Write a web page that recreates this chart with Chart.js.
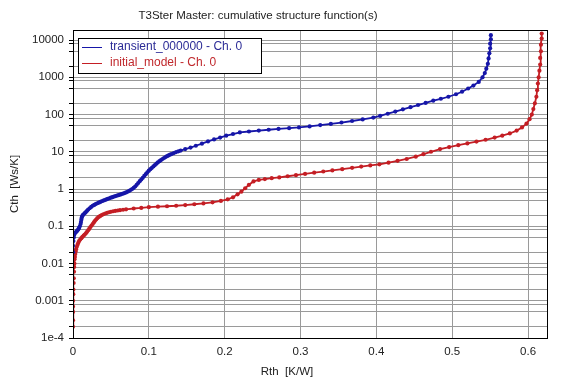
<!DOCTYPE html>
<html>
<head>
<meta charset="utf-8">
<script src="https://cdn.jsdelivr.net/npm/chart.js@4/dist/chart.umd.min.js"></script>
<style>
  html, body { margin: 0; padding: 0; background: #ffffff; }
  #wrap { width: 565px; height: 381px; }
</style>
</head>
<body>
<div id="wrap"><canvas id="c" width="565" height="381"></canvas></div>
<script>
// ---- Data ----
const TITLE = 'T3Ster Master: cumulative structure function(s)';
const X_TITLE = 'Rth  [K/W]';
const Y_TITLE = 'Cth  [Ws/K]';
const SERIES_NAMES = ['transient_000000 - Ch. 0', 'initial_model - Ch. 0'];

const BLUE_X = [0, 0, 0.0005, 0.001, 0.0015, 0.002, 0.003, 0.004, 0.005, 0.006, 0.007, 0.008, 0.009, 0.010, 0.0105, 0.011,
  0.0115, 0.012, 0.013, 0.014, 0.0155, 0.017, 0.0185, 0.020, 0.022, 0.024, 0.026, 0.028, 0.030, 0.032, 0.034, 0.036,
  0.038, 0.040, 0.042, 0.044, 0.046, 0.048, 0.050, 0.052, 0.054, 0.056, 0.058, 0.060, 0.062, 0.064, 0.066, 0.068,
  0.070, 0.072, 0.074, 0.076, 0.078, 0.080, 0.082, 0.084, 0.086, 0.088, 0.090, 0.092, 0.094, 0.096, 0.098, 0.100,
  0.102, 0.104, 0.106, 0.108, 0.110, 0.112, 0.114, 0.116, 0.118, 0.120, 0.122, 0.124, 0.126, 0.128, 0.130, 0.133,
  0.136, 0.139, 0.142, 0.148, 0.155, 0.162, 0.170, 0.178, 0.186, 0.194, 0.202, 0.211, 0.220,
  0.232, 0.245, 0.258, 0.271, 0.285, 0.298, 0.312, 0.326, 0.340, 0.354, 0.368, 0.382, 0.396, 0.405, 0.415, 0.425,
  0.435, 0.445, 0.455, 0.465, 0.475, 0.485, 0.495, 0.505, 0.513, 0.521, 0.528, 0.535, 0.540, 0.543, 0.545, 0.547,
  0.548, 0.549, 0.550, 0.550, 0.551, 0.551];
const BLUE_Y = [0.02, 0.03, 0.04, 0.05, 0.058, 0.063, 0.067, 0.07, 0.074, 0.078, 0.083, 0.09, 0.1, 0.115, 0.13, 0.15,
  0.17, 0.185, 0.2, 0.21, 0.225, 0.24, 0.26, 0.28, 0.305, 0.33, 0.355, 0.375, 0.395, 0.415, 0.43, 0.45,
  0.47, 0.49, 0.505, 0.525, 0.545, 0.565, 0.585, 0.605, 0.625, 0.645, 0.665, 0.685, 0.705, 0.73, 0.755, 0.78,
  0.81, 0.845, 0.89, 0.94, 1.0, 1.07, 1.17, 1.3, 1.45, 1.62, 1.8, 2.0, 2.25, 2.5, 2.8, 3.1,
  3.4, 3.7, 4.05, 4.4, 4.8, 5.2, 5.6, 6.0, 6.4, 6.8, 7.2, 7.6, 8.0, 8.4, 8.7, 9.2,
  9.8, 10.3, 10.8, 11.8, 13, 14.5, 16.5, 19, 21.5, 24, 27, 30, 33,
  35, 37, 39, 41, 43, 45, 48, 52, 56, 61, 67, 74, 83, 92, 105, 120,
  138, 158, 180, 205, 235, 265, 300, 350, 410, 500, 600, 750, 1000, 1300, 1700, 2300,
  3200, 4400, 6000, 8000, 10500, 13500];

const RED_X = [0, 0, 0, 0, 0, 0.0003, 0.0005, 0.0008, 0.001, 0.0013, 0.0015, 0.0018, 0.002, 0.0025, 0.003, 0.0035,
  0.004, 0.005, 0.006, 0.007, 0.008, 0.0095, 0.011, 0.0125, 0.014, 0.0155, 0.017, 0.0185, 0.020, 0.0215, 0.023, 0.0245,
  0.026, 0.0275, 0.029, 0.0305, 0.032, 0.034, 0.036, 0.038, 0.040, 0.0425, 0.045, 0.0475, 0.050, 0.053, 0.056, 0.059,
  0.062, 0.066, 0.070, 0.080, 0.090, 0.100, 0.112, 0.124, 0.136,
  0.148, 0.160, 0.172, 0.184, 0.195, 0.204, 0.211, 0.217, 0.222, 0.227, 0.232, 0.238, 0.245, 0.253, 0.262, 0.272,
  0.283, 0.294, 0.306, 0.318, 0.330, 0.342, 0.355, 0.368, 0.380, 0.392, 0.404, 0.416, 0.428, 0.440, 0.452, 0.462,
  0.472, 0.484, 0.496, 0.508, 0.520, 0.532, 0.544, 0.556, 0.566, 0.576, 0.585, 0.592, 0.598, 0.602, 0.605, 0.607,
  0.609, 0.611, 0.612, 0.613, 0.614, 0.615, 0.616, 0.616, 0.617, 0.617, 0.618, 0.618];
const RED_Y = [0.0002, 0.0003, 0.0005, 0.0007, 0.001, 0.0015, 0.002, 0.003, 0.004, 0.006, 0.008, 0.01, 0.013, 0.015, 0.018, 0.021,
  0.024, 0.028, 0.032, 0.036, 0.040, 0.044, 0.048, 0.052, 0.056, 0.06, 0.065, 0.071, 0.078, 0.086, 0.095, 0.105,
  0.115, 0.127, 0.14, 0.152, 0.165, 0.178, 0.19, 0.2, 0.21, 0.22, 0.23, 0.238, 0.245, 0.253, 0.26, 0.265,
  0.27, 0.278, 0.285, 0.30, 0.31, 0.325, 0.335, 0.345, 0.355,
  0.37, 0.39, 0.41, 0.44, 0.48, 0.53, 0.60, 0.72, 0.85, 1.05, 1.3, 1.6, 1.75, 1.85, 1.95, 2.05,
  2.2, 2.35, 2.55, 2.75, 2.95, 3.15, 3.4, 3.7, 4.0, 4.3, 4.6, 5.1, 5.7, 6.4, 7.4, 8.6,
  10.0, 11.8, 13.4, 15, 16.8, 18.8, 21, 24, 27, 31, 37, 45, 57, 75, 100, 140,
  200, 300, 450, 680, 1000, 1500, 2200, 3300, 5000, 7500, 11000, 15000];

const Y_DECADES = [1e-4, 1e-3, 1e-2, 1e-1, 1, 10, 100, 1000, 10000];
const Y_DECADE_LABELS = ['1e-4', '0.001', '0.01', '0.1', '1', '10', '100', '1000', '10000'];
const Y_MINOR_FACTORS = [2, 5, 8];
const X_TICK_LABELS = ['0', '0.1', '0.2', '0.3', '0.4', '0.5', '0.6'];

// ---- Derived structures ----
const X_MIN = 0, X_MAX = 0.625, Y_MIN = 1e-4, Y_MAX = 18600;
const BLUE = '#1616a8';
const RED = '#c41e24';

const Y_TICKS = [];
Y_DECADES.forEach(d => {
  Y_TICKS.push(d);
  Y_MINOR_FACTORS.forEach(f => { if (d * f <= Y_MAX) Y_TICKS.push(d * f); });
});

function yLabel(v) {
  for (let i = 0; i < Y_DECADES.length; i++) {
    if (Math.abs(v / Y_DECADES[i] - 1) < 1e-6) return Y_DECADE_LABELS[i];
  }
  return '';
}
function xLabel(v) {
  const i = Math.round(v / 0.1);
  if (Math.abs(v - i * 0.1) < 1e-6 && i >= 0 && i < X_TICK_LABELS.length) return X_TICK_LABELS[i];
  return '';
}

const toPts = (xs, ys) => xs.map((x, i) => ({ x: x, y: ys[i] }));

const FONT = 'Liberation Sans, Arial, sans-serif';

const framePlugin = {
  id: 'frame',
  afterDraw(chart) {
    const { ctx, chartArea: a } = chart;
    ctx.save();
    // titles
    ctx.fillStyle = '#222';
    ctx.font = '11.5px ' + FONT;
    ctx.textAlign = 'center';
    ctx.textBaseline = 'middle';
    ctx.fillText(TITLE, 258, 16);
    ctx.fillText(X_TITLE, 287, 372);
    ctx.restore();
  },
  afterDatasetsDraw(chart) {
    const { ctx, chartArea: a } = chart;
    ctx.save();
    ctx.strokeStyle = '#000';
    ctx.lineWidth = 1;
    ctx.strokeRect(Math.round(a.left) + 0.5, Math.round(a.top) + 0.5,
      Math.round(a.right - a.left), Math.round(a.bottom - a.top));
    // legend box
    const lx = a.left + 5, ly = a.top + 8, lw = 183, lh = 35;
    ctx.fillStyle = '#fff';
    ctx.fillRect(lx, ly, lw, lh);
    ctx.strokeRect(Math.round(lx) + 0.5, Math.round(ly) + 0.5, lw, lh);
    const cols = [BLUE, RED];
    const txtCols = ['#2b2b96', '#c0282c'];
    ctx.font = '12px ' + FONT;
    ctx.textBaseline = 'middle';
    SERIES_NAMES.forEach((n, i) => {
      const yy = ly + 9 + i * 16;
      ctx.strokeStyle = cols[i];
      ctx.lineWidth = 1;
      ctx.beginPath();
      ctx.moveTo(lx + 4, yy + 0.5);
      ctx.lineTo(lx + 24, yy + 0.5);
      ctx.stroke();
      ctx.fillStyle = txtCols[i];
      ctx.fillText(n, lx + 32, yy);
    });
    ctx.restore();
  }
};

new Chart(document.getElementById('c'), {
  type: 'scatter',
  data: {
    datasets: [
      {
        label: SERIES_NAMES[0], data: toPts(BLUE_X, BLUE_Y), showLine: true,
        borderColor: BLUE, backgroundColor: BLUE, borderWidth: 1.8,
        pointRadius: 2.1, pointHoverRadius: 2.1, pointBorderWidth: 0, tension: 0
      },
      {
        label: SERIES_NAMES[1], data: toPts(RED_X, RED_Y), showLine: true,
        borderColor: RED, backgroundColor: RED, borderWidth: 1.8,
        pointRadius: 2.1, pointHoverRadius: 2.1, pointBorderWidth: 0, tension: 0
      }
    ]
  },
  options: {
    responsive: false,
    animation: false,
    events: [],
    layout: { padding: { left: 0, right: 18, top: 30, bottom: 0 } },
    plugins: {
      legend: { display: false },
      tooltip: { enabled: false },
      title: { display: false }
    },
    scales: {
      x: {
        type: 'linear', min: X_MIN, max: X_MAX,
        afterBuildTicks: (s) => { s.ticks = X_TICK_LABELS.map((t, i) => ({ value: i * 0.1 })); },
        ticks: {
          autoSkip: false, maxRotation: 0, color: '#222', padding: 7,
          font: { family: FONT, size: 11.5 },
          callback: (v) => xLabel(v)
        },
        grid: { color: '#9a9a9a', lineWidth: 1, drawTicks: false },
        border: { color: '#000', width: 1 },
        afterFit: (s) => { s.height = 43; }
      },
      y: {
        type: 'logarithmic', min: Y_MIN, max: Y_MAX,
        afterBuildTicks: (s) => { s.ticks = Y_TICKS.map(v => ({ value: v })); },
        ticks: {
          autoSkip: false, color: '#222', padding: 5,
          font: { family: FONT, size: 11.5 },
          callback: (v) => yLabel(v)
        },
        grid: { color: '#9a9a9a', lineWidth: 1, tickLength: 4, tickColor: '#000' },
        border: { color: '#000', width: 1 },
        title: {
          display: true, text: Y_TITLE, color: '#222',
          font: { family: FONT, size: 11.5 }, padding: { top: 8, bottom: 0 }
        },
        afterFit: (s) => { s.width = 73; }
      }
    }
  },
  plugins: [framePlugin]
});
</script>
</body>
</html>
